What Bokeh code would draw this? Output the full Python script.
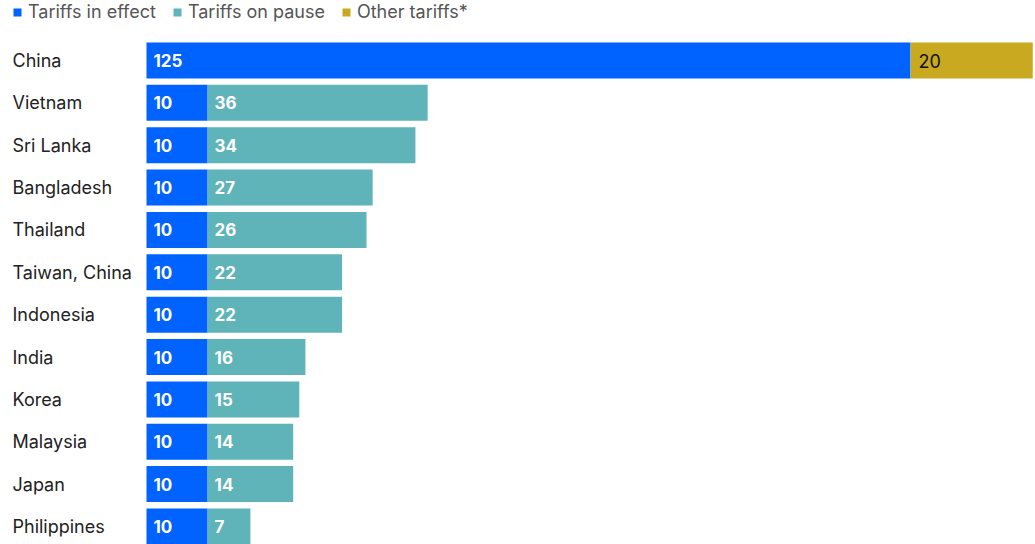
from bokeh.plotting import figure
from bokeh.models import Range1d, Legend, LegendItem, ColumnDataSource
from bokeh.core.properties import value
from bokeh.embed import file_html
from bokeh.resources import INLINE

countries = ["China", "Vietnam", "Sri Lanka", "Bangladesh", "Thailand", "Taiwan, China",
             "Indonesia", "India", "Korea", "Malaysia", "Japan", "Philippines"]
in_effect = [125, 10, 10, 10, 10, 10, 10, 10, 10, 10, 10, 10]
on_pause = [0, 36, 34, 27, 26, 22, 22, 16, 15, 14, 14, 7]
other = [20, 0, 0, 0, 0, 0, 0, 0, 0, 0, 0, 0]
series_names = ["Tariffs in effect", "Tariffs on pause", "Other tariffs*"]

C_EFFECT = "#0062FF"
C_PAUSE = "#5FB4BA"
C_OTHER = "#C8A920"
FONT = "Inter"

W, H = 1035, 544
XS = 6.112     # px per unit
YS = 42.36     # px per row
x0 = -146 / XS
y0 = -60 / YS
p = figure(width=W, height=H, output_backend="svg", toolbar_location=None,
           x_range=Range1d(x0, x0 + W / XS), y_range=Range1d(y0 + H / YS, y0),
           min_border=0, outline_line_color=None)
p.xaxis.visible = False
p.yaxis.visible = False
p.xgrid.visible = False
p.ygrid.visible = False
p.background_fill_color = "white"

idx = list(range(len(countries)))
src = ColumnDataSource(dict(
    y=idx, country=countries,
    e0=[0] * len(idx), e1=in_effect,
    p0=in_effect, p1=[a + b for a, b in zip(in_effect, on_pause)],
    o0=[a + b for a, b in zip(in_effect, on_pause)],
    o1=[a + b + c for a, b, c in zip(in_effect, on_pause, other)],
))
bh = 36 / YS
r1 = p.hbar(y="y", left="e0", right="e1", height=bh, source=src, fill_color=C_EFFECT, line_color=None)
r2 = p.hbar(y="y", left="p0", right="p1", height=bh, source=src, fill_color=C_PAUSE, line_color=None)
r3 = p.hbar(y="y", left="o0", right="o1", height=bh, source=src, fill_color=C_OTHER, line_color=None)

# Category labels
p.text(x=[x0] * len(idx), y=idx, text=countries, x_offset=12,
       text_font=value(FONT), text_font_size="18px", text_color="#222222",
       text_align="left", text_baseline="middle")

# value labels
p.text(x=[0] * len(idx), y=idx, text=[str(v) for v in in_effect], x_offset=7,
       text_font=value(FONT), text_font_size="17px", text_font_style="bold", text_color="white",
       text_align="left", text_baseline="middle")
pi = [i for i in idx if on_pause[i] > 0]
p.text(x=[in_effect[i] for i in pi], y=pi, text=[str(on_pause[i]) for i in pi], x_offset=7,
       text_font=value(FONT), text_font_size="17px", text_font_style="bold", text_color="white",
       text_align="left", text_baseline="middle")
oi = [i for i in idx if other[i] > 0]
p.text(x=[in_effect[i] + on_pause[i] for i in oi], y=oi, text=[str(other[i]) for i in oi], x_offset=8,
       text_font=value(FONT), text_font_size="18px", text_color="#111111",
       text_align="left", text_baseline="middle")

legend = Legend(items=[LegendItem(label=series_names[0], renderers=[r1]),
                       LegendItem(label=series_names[1], renderers=[r2]),
                       LegendItem(label=series_names[2], renderers=[r3])],
                orientation="horizontal", location=(12, H - 4 - 18),
                glyph_width=10, glyph_height=10, label_standoff=6, spacing=16,
                padding=0, margin=0, border_line_color=None, background_fill_alpha=0,
                label_text_font=FONT, label_text_font_size="18px", label_text_color="#555555",
                label_height=18)
p.add_layout(legend)

open("out.html", "w").write(file_html(p, INLINE))
